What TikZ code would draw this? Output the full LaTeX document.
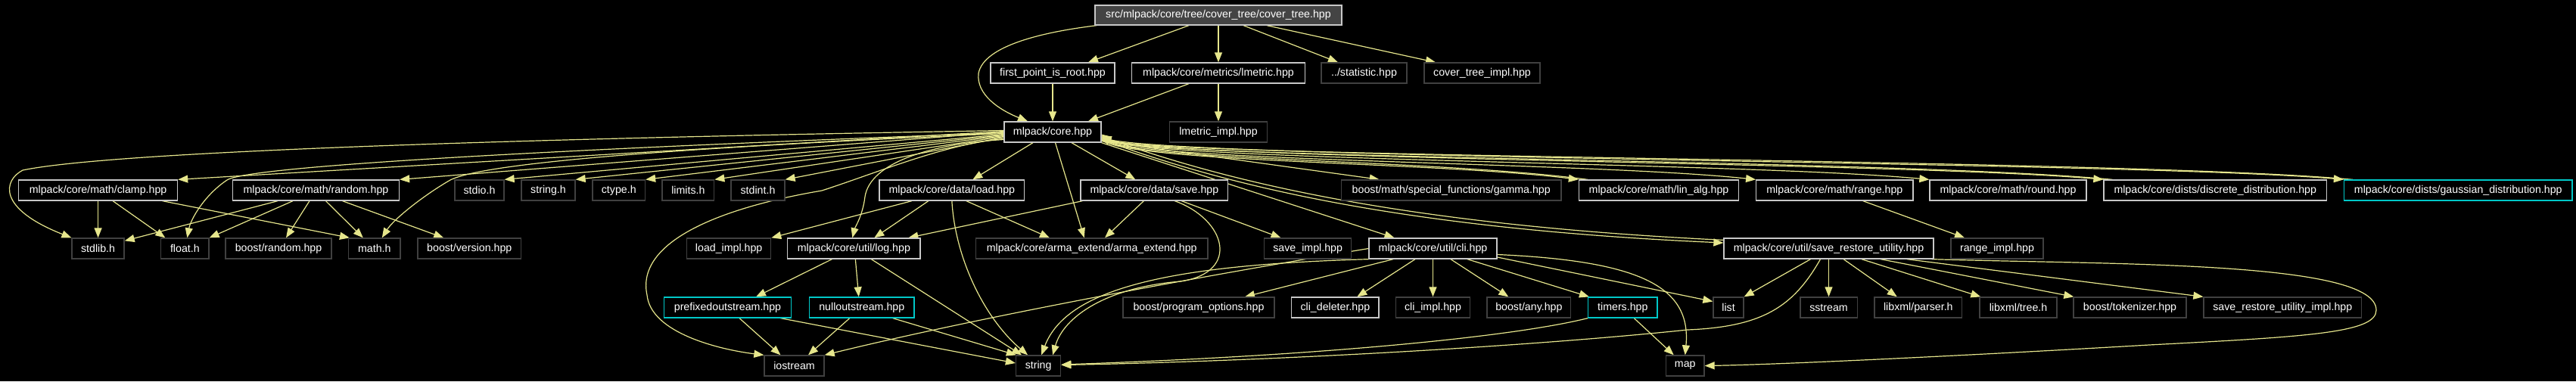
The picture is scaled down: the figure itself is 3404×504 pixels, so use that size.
\documentclass[tikz,border=0pt]{standalone}
\usepackage{fontspec}
\setmainfont{Liberation Sans}
\usetikzlibrary{arrows.meta}
\pgfdeclarelayer{bg}
\pgfsetlayers{bg,main}
\definecolor{edgec}{RGB}{230,230,140}
\definecolor{docb}{RGB}{200,200,200}
\definecolor{undocb}{RGB}{64,64,64}
\definecolor{cyanb}{RGB}{0,200,200}
\definecolor{rootf}{RGB}{68,68,68}
\begin{document}
\begin{tikzpicture}[x=1pt,y=-1pt,
  box/.style={rectangle, draw, line width=1.3pt, fill=black, text=white, inner sep=0pt, minimum height=27pt, font=\fontsize{14.2}{16}\selectfont},
  doc/.style={box, draw=docb},
  sys/.style={box, draw=undocb},
  trunc/.style={box, draw=cyanb},
  rootn/.style={box, draw=docb, fill=rootf, minimum height=26pt},
  edge/.style={draw=edgec, line width=1.2pt, -{Triangle[length=13pt,width=10pt]}}]
\useasboundingbox (0,0) rectangle (3404,504);
% row 0
\node[rootn, minimum width=326pt] (root) at (1610,20) {src/mlpack/core/tree/cover\_tree/cover\_tree.hpp};
% row 1
\node[doc, minimum width=164pt] (fpir) at (1391,96.5) {first\_point\_is\_root.hpp};
\node[doc, minimum width=229pt] (lmetric) at (1610,96.5) {mlpack/core/metrics/lmetric.hpp};
\node[sys, minimum width=113pt] (statistic) at (1802.5,96.5) {../statistic.hpp};
\node[sys, minimum width=153pt] (ctimpl) at (1958.5,96.5) {cover\_tree\_impl.hpp};
% row 2
\node[doc, minimum width=128pt] (core) at (1391,174.5) {mlpack/core.hpp};
\node[sys, minimum width=129pt] (lmimpl) at (1610,174.5) {lmetric\_impl.hpp};
% row 3
\node[doc, minimum width=210pt] (clamp) at (129.6,251.5) {mlpack/core/math/clamp.hpp};
\node[doc, minimum width=220pt] (random) at (417.5,251.5) {mlpack/core/math/random.hpp};
\node[sys, minimum width=65pt] (stdio) at (633.5,251.5) {stdio.h};
\node[sys, minimum width=71pt] (stringh) at (724.5,251.5) {string.h};
\node[sys, minimum width=69.5pt] (ctype) at (817.75,251.5) {ctype.h};
\node[sys, minimum width=68.7pt] (limits) at (909.35,251.5) {limits.h};
\node[sys, minimum width=71pt] (stdint) at (1001.5,251.5) {stdint.h};
\node[doc, minimum width=191.7pt] (load) at (1257.85,251.5) {mlpack/core/data/load.hpp};
\node[doc, minimum width=194.7pt] (save) at (1525.35,251.5) {mlpack/core/data/save.hpp};
\node[sys, minimum width=290.5pt] (gamma) at (1917.75,251.5) {boost/math/special\_functions/gamma.hpp};
\node[doc, minimum width=211pt] (linalg) at (2192,251.5) {mlpack/core/math/lin\_alg.hpp};
\node[doc, minimum width=207.3pt] (range) at (2424.35,251.5) {mlpack/core/math/range.hpp};
\node[doc, minimum width=207pt] (round) at (2653.5,251.5) {mlpack/core/math/round.hpp};
\node[doc, minimum width=294.5pt] (discrete) at (2927.25,251.5) {mlpack/core/dists/discrete\_distribution.hpp};
\node[trunc, minimum width=301.5pt] (gaussian) at (3248.25,251.5) {mlpack/core/dists/gaussian\_distribution.hpp};
% row 4
\node[sys, minimum width=69pt] (stdlib) at (129.6,328.5) {stdlib.h};
\node[sys, minimum width=63.3pt] (floath) at (244.35,328.5) {float.h};
\node[sys, minimum width=140pt] (brandom) at (368,328.5) {boost/random.hpp};
\node[sys, minimum width=68.4pt] (mathh) at (494.8,328.5) {math.h};
\node[sys, minimum width=136.5pt] (bversion) at (620.25,328.5) {boost/version.hpp};
\node[sys, minimum width=111pt] (loadimpl) at (963.15,328.5) {load\_impl.hpp};
\node[doc, minimum width=175.3pt] (log) at (1128.35,328.5) {mlpack/core/util/log.hpp};
\node[sys, minimum width=306.6pt] (arma) at (1442.7,328.5) {mlpack/core/arma\_extend/arma\_extend.hpp};
\node[sys, minimum width=115pt] (saveimpl) at (1728.15,328.5) {save\_impl.hpp};
\node[doc, minimum width=169pt] (cli) at (1893.5,328.5) {mlpack/core/util/cli.hpp};
\node[doc, minimum width=277pt] (sru) at (2416.5,328.5) {mlpack/core/util/save\_restore\_utility.hpp};
\node[sys, minimum width=122pt] (rangeimpl) at (2639,328.5) {range\_impl.hpp};
% row 5
\node[trunc, minimum width=168pt] (prefixed) at (961.5,406.5) {prefixedoutstream.hpp};
\node[trunc, minimum width=138.5pt] (nullout) at (1138.75,406.5) {nulloutstream.hpp};
\node[sys, minimum width=200pt] (bpo) at (1584,406.5) {boost/program\_options.hpp};
\node[doc, minimum width=115.3pt] (clidel) at (1764.35,406.5) {cli\_deleter.hpp};
\node[sys, minimum width=97.6pt] (cliimpl) at (1893.5,406.5) {cli\_impl.hpp};
\node[sys, minimum width=110.7pt] (bany) at (2020.35,406.5) {boost/any.hpp};
\node[trunc, minimum width=91.4pt] (timers) at (2144.3,406.5) {timers.hpp};
\node[sys, minimum width=40pt] (list) at (2284,406.5) {list};
\node[sys, minimum width=75.3pt] (sstream) at (2416.5,406.5) {sstream};
\node[sys, minimum width=115.6pt] (parser) at (2534.8,406.5) {libxml/parser.h};
\node[sys, minimum width=102pt] (tree) at (2667,406.5) {libxml/tree.h};
\node[sys, minimum width=149pt] (tokenizer) at (2814.5,406.5) {boost/tokenizer.hpp};
\node[sys, minimum width=208.6pt] (sruimpl) at (3016.3,406.5) {save\_restore\_utility\_impl.hpp};
% row 6
\node[sys, minimum width=79pt] (iostream) at (1049.5,483.5) {iostream};
\node[sys, minimum width=59.2pt] (string) at (1372.1,483.5) {string};
\node[sys, minimum width=50.5pt] (map) at (2226.75,483.5) {map};

\begin{pgfonlayer}{bg}
\fill[black] (0,0) rectangle (3404,504);
% ---- edges from root
\draw[edge] ([xshift=3pt]root.south west) .. controls (1380,42) and (1300,60) .. (1293,97) .. controls (1290,125) and (1320,145) .. ([xshift=-33pt]core.north);
\draw[edge] ([xshift=-39pt]root.south) -- ([xshift=47pt]fpir.north);
\draw[edge] (root.south) -- (lmetric.north);
\draw[edge] ([xshift=33pt]root.south) -- ([xshift=-34.5pt]statistic.north);
\draw[edge] ([xshift=64pt]root.south) -- ([xshift=-61.5pt]ctimpl.north);
\draw[edge] (fpir.south) -- (core.north);
\draw[edge] ([xshift=-39pt]lmetric.south) -- ([xshift=47pt]core.north);
\draw[edge] (lmetric.south) -- (lmimpl.north);

% ---- core, left side
\draw[edge] ([yshift=2pt]core.west) .. controls (700,183) and (150,200) .. (30,225) .. controls (5,238) and (-5,275) .. (stdlib.north west);
\draw[edge] ([yshift=1pt]core.west) -- (clamp.north east);
\draw[edge] (core.west) -- (random.north east);
\draw[edge] ([yshift=-1pt]core.west) .. controls (800,195) and (330,218) .. (300,238) .. controls (270,258) and (252,290) .. ([xshift=3pt]floath.north);
\draw[edge] ([yshift=-2pt]core.west) .. controls (900,195) and (640,215) .. (595,238) .. controls (560,258) and (520,290) .. ([xshift=10pt]mathh.north);
\draw[edge] ([yshift=-3pt]core.west) -- (stdio.north east);
\draw[edge] ([yshift=-4pt]core.west) -- (stringh.north east);
\draw[edge] ([yshift=-5pt]core.west) -- (ctype.north east);
\draw[edge] ([yshift=-6pt]core.west) -- (limits.north east);
\draw[edge] ([yshift=-7pt]core.west) -- (stdint.north east);
\draw[edge] ([yshift=-9pt]core.west) .. controls (1250,190) and (1160,228) .. (1086,252) .. controls (950,275) and (840,320) .. (855,390) .. controls (860,440) and (950,462) .. (iostream.north west);
\draw[edge] ([yshift=-10pt]core.west) .. controls (1230,190) and (1150,215) .. (1143,260) .. controls (1140,285) and (1130,300) .. ([xshift=-2pt]log.north);
% ---- core, bottom
\draw[edge] ([xshift=-26pt]core.south) -- ([xshift=27.5pt]load.north);
\draw[edge] ([xshift=25pt]core.south) -- ([xshift=-25pt]save.north);
\draw[edge] ([xshift=3.5pt]core.south) -- ([xshift=-10pt]arma.north);
% ---- core, right side
\draw[edge] ([yshift=-12pt]core.east) -- ([xshift=-95pt]gamma.north);
\draw[edge] ([yshift=-11pt]core.east) .. controls (1500,215) and (1900,214) .. (linalg.north west);
\draw[edge] ([yshift=-10pt]core.east) .. controls (1500,214) and (2100,214) .. (range.north west);
\draw[edge] ([yshift=-9pt]core.east) .. controls (1500,213) and (2300,214) .. (round.north west);
\draw[edge] ([yshift=-8pt]core.east) .. controls (1500,212) and (2500,213) .. (discrete.north west);
\draw[edge] ([yshift=-7pt]core.east) .. controls (1500,211) and (2800,212) .. (gaussian.north west);
\draw[edge] ([xshift=12pt]linalg.north west) .. controls (1900,211) and (1500,212) .. ([yshift=-5pt]core.east);
\draw[edge] ([xshift=12pt]discrete.north west) .. controls (2500,210) and (1500,210) .. ([yshift=-4pt]core.east);
\draw[edge] ([xshift=12pt]gaussian.north west) .. controls (2800,209) and (1500,209) .. ([yshift=-3pt]core.east);
\draw[edge] ([yshift=-10pt]core.east) .. controls (1620,245) and (1850,302) .. ([yshift=7.5pt]sru.west);
\draw[edge] ([yshift=-3pt]sru.north west) .. controls (1850,297) and (1620,239) .. ([yshift=-6pt]core.east);
\draw[edge] (core.south east) -- ([xshift=-51pt]cli.north);

% ---- clamp / random
\draw[edge] (clamp.south) -- (stdlib.north);
\draw[edge] ([xshift=19.5pt]clamp.south) -- ([xshift=-26pt]floath.north);
\draw[edge] ([xshift=85pt]clamp.south) -- ([xshift=2pt]mathh.north west);
\draw[edge] ([xshift=-50.5pt]random.south) -- ([yshift=-4pt]stdlib.north east);
\draw[edge] ([xshift=-30.5pt]random.south) -- (floath.north east);
\draw[edge] ([xshift=-8.5pt]random.south) -- ([xshift=10pt]brandom.north);
\draw[edge] ([xshift=13pt]random.south) -- ([xshift=-15pt]mathh.north);
\draw[edge] ([xshift=35pt]random.south) -- ([xshift=-34pt]bversion.north);

% ---- load / save
\draw[edge] ([xshift=-31pt]load.south) -- ([xshift=27pt]log.north);
\draw[edge] ([xshift=19pt]load.south) -- ([xshift=-55.7pt]arma.north);
\draw[edge] (load.south) .. controls (1262,340) and (1300,420) .. ([xshift=-14pt]string.north);
\draw[edge] ([xshift=-53pt]load.south) -- (loadimpl.north east);
\draw[edge] ([xshift=-95pt]save.south) -- ([xshift=72pt]log.north);
\draw[edge] ([xshift=-14pt]save.south) -- ([xshift=17.3pt]arma.north);
\draw[edge] ([xshift=36pt]save.south) -- ([xshift=-35.6pt]saveimpl.north);
\draw[edge] ([xshift=27pt]save.south) .. controls (1620,290) and (1640,360) .. (1560,372) .. controls (1460,380) and (1405,420) .. ([xshift=19pt]string.north);

% ---- cli
\draw[edge] (cli.south west) .. controls (1550,350) and (1410,380) .. ([xshift=4pt]string.north);
\draw[edge] (cli.west) .. controls (1500,380) and (1250,430) .. (iostream.north east);
\draw[edge] ([xshift=-52.5pt]cli.south) -- ([xshift=61pt]bpo.north);
\draw[edge] ([xshift=-23.5pt]cli.south) -- ([xshift=29pt]clidel.north);
\draw[edge] (cli.south) -- (cliimpl.north);
\draw[edge] ([xshift=23.5pt]cli.south) -- ([xshift=-27pt]bany.north);
\draw[edge] ([xshift=45.5pt]cli.south) -- ([xshift=2pt]timers.north west);
\draw[edge] ([yshift=-11.5pt]cli.east) -- ([yshift=8pt]list.west);
\draw[edge] ([yshift=-8pt]cli.east) .. controls (2170,345) and (2235,380) .. (map.north);

% ---- timers
\draw[edge] ([xshift=15pt]timers.south) -- ([xshift=-15pt]map.north);
\draw[edge] (timers.south west) .. controls (2000,445) and (1750,470) .. ([yshift=1.5pt]string.east);

% ---- save_restore_utility
\draw[edge] ([xshift=-24pt]sru.south) -- (list.north east);
\draw[edge] ([xshift=-11pt]sru.south) .. controls (2370,405) and (2330,432) .. (2230,436) .. controls (2000,460) and (1650,478) .. ([yshift=1pt]string.east);
\draw[edge] (sru.south) -- (sstream.north);
\draw[edge] ([xshift=19.6pt]sru.south) -- ([xshift=-28pt]parser.north);
\draw[edge] ([xshift=43.5pt]sru.south) -- ([xshift=2pt]tree.north west);
\draw[edge] ([xshift=68.7pt]sru.south) -- ([xshift=1pt]tokenizer.north west);
\draw[edge] ([xshift=103.5pt]sru.south) -- (sruimpl.north west);
\draw[edge] ([xshift=-3pt]sru.south east) .. controls (2800,350) and (3140,345) .. (3140,410) .. controls (3140,440) and (3050,445) .. (2840,456) .. controls (2600,470) and (2350,482) .. (map.east);

% ---- range
\draw[edge] ([xshift=37.4pt]range.south) -- ([xshift=-43pt]rangeimpl.north);

% ---- log
\draw[edge] ([xshift=-29pt]log.south) -- ([xshift=37.5pt]prefixed.north);
\draw[edge] ([xshift=2pt]log.south) -- ([xshift=-4pt]nullout.north);
\draw[edge] ([xshift=23pt]log.south) -- ([xshift=-22pt]string.north);

% ---- prefixed / null
\draw[edge] ([xshift=15.6pt]prefixed.south) -- ([xshift=-18pt]iostream.north);
\draw[edge] ([xshift=70pt]prefixed.south) -- ([yshift=3.5pt]string.west);
\draw[edge] ([xshift=-16pt]nullout.south) -- ([xshift=18.5pt]iostream.north);
\draw[edge] ([xshift=41pt]nullout.south) -- ([xshift=1pt]string.north west);
\end{pgfonlayer}
\end{tikzpicture}
\end{document}
